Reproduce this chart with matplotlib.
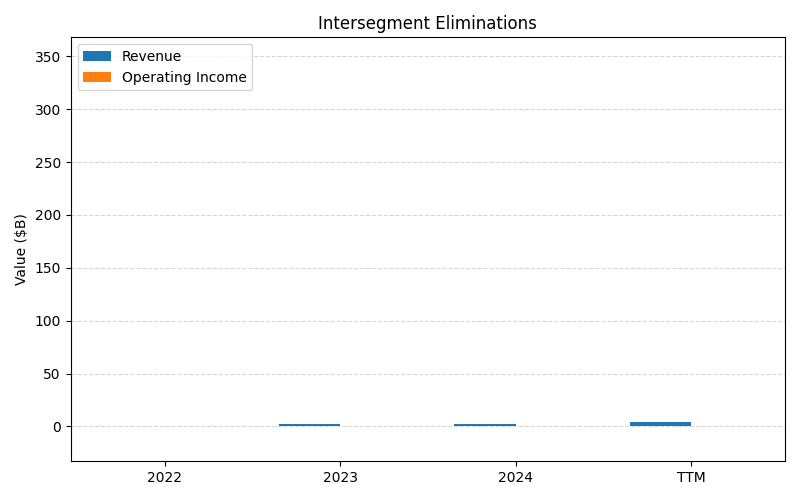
import matplotlib
matplotlib.use("Agg")
import matplotlib.pyplot as plt
import numpy as np

categories = ["2022", "2023", "2024", "TTM"]
revenue = [0.6, 2.0, 2.0, 4.0]
operating_income = [0.0, 0.0, 0.0, 0.0]

fig, ax = plt.subplots(figsize=(8, 5), dpi=100)
x = np.arange(len(categories))
w = 0.35
ax.bar(x - w/2, revenue, w, label="Revenue", color="#1f77b4")
ax.bar(x + w/2, operating_income, w, label="Operating Income", color="#ff7f0e")
ax.set_xticks(x)
ax.set_xticklabels(categories)
ax.set_ylim(-33, 368)
ax.set_ylabel("Value ($B)")
ax.set_title("Intersegment Eliminations")
ax.yaxis.grid(True, linestyle="--", alpha=0.5)
ax.set_axisbelow(True)
ax.legend(loc="upper left")
fig.tight_layout()
fig.savefig("out.png")
